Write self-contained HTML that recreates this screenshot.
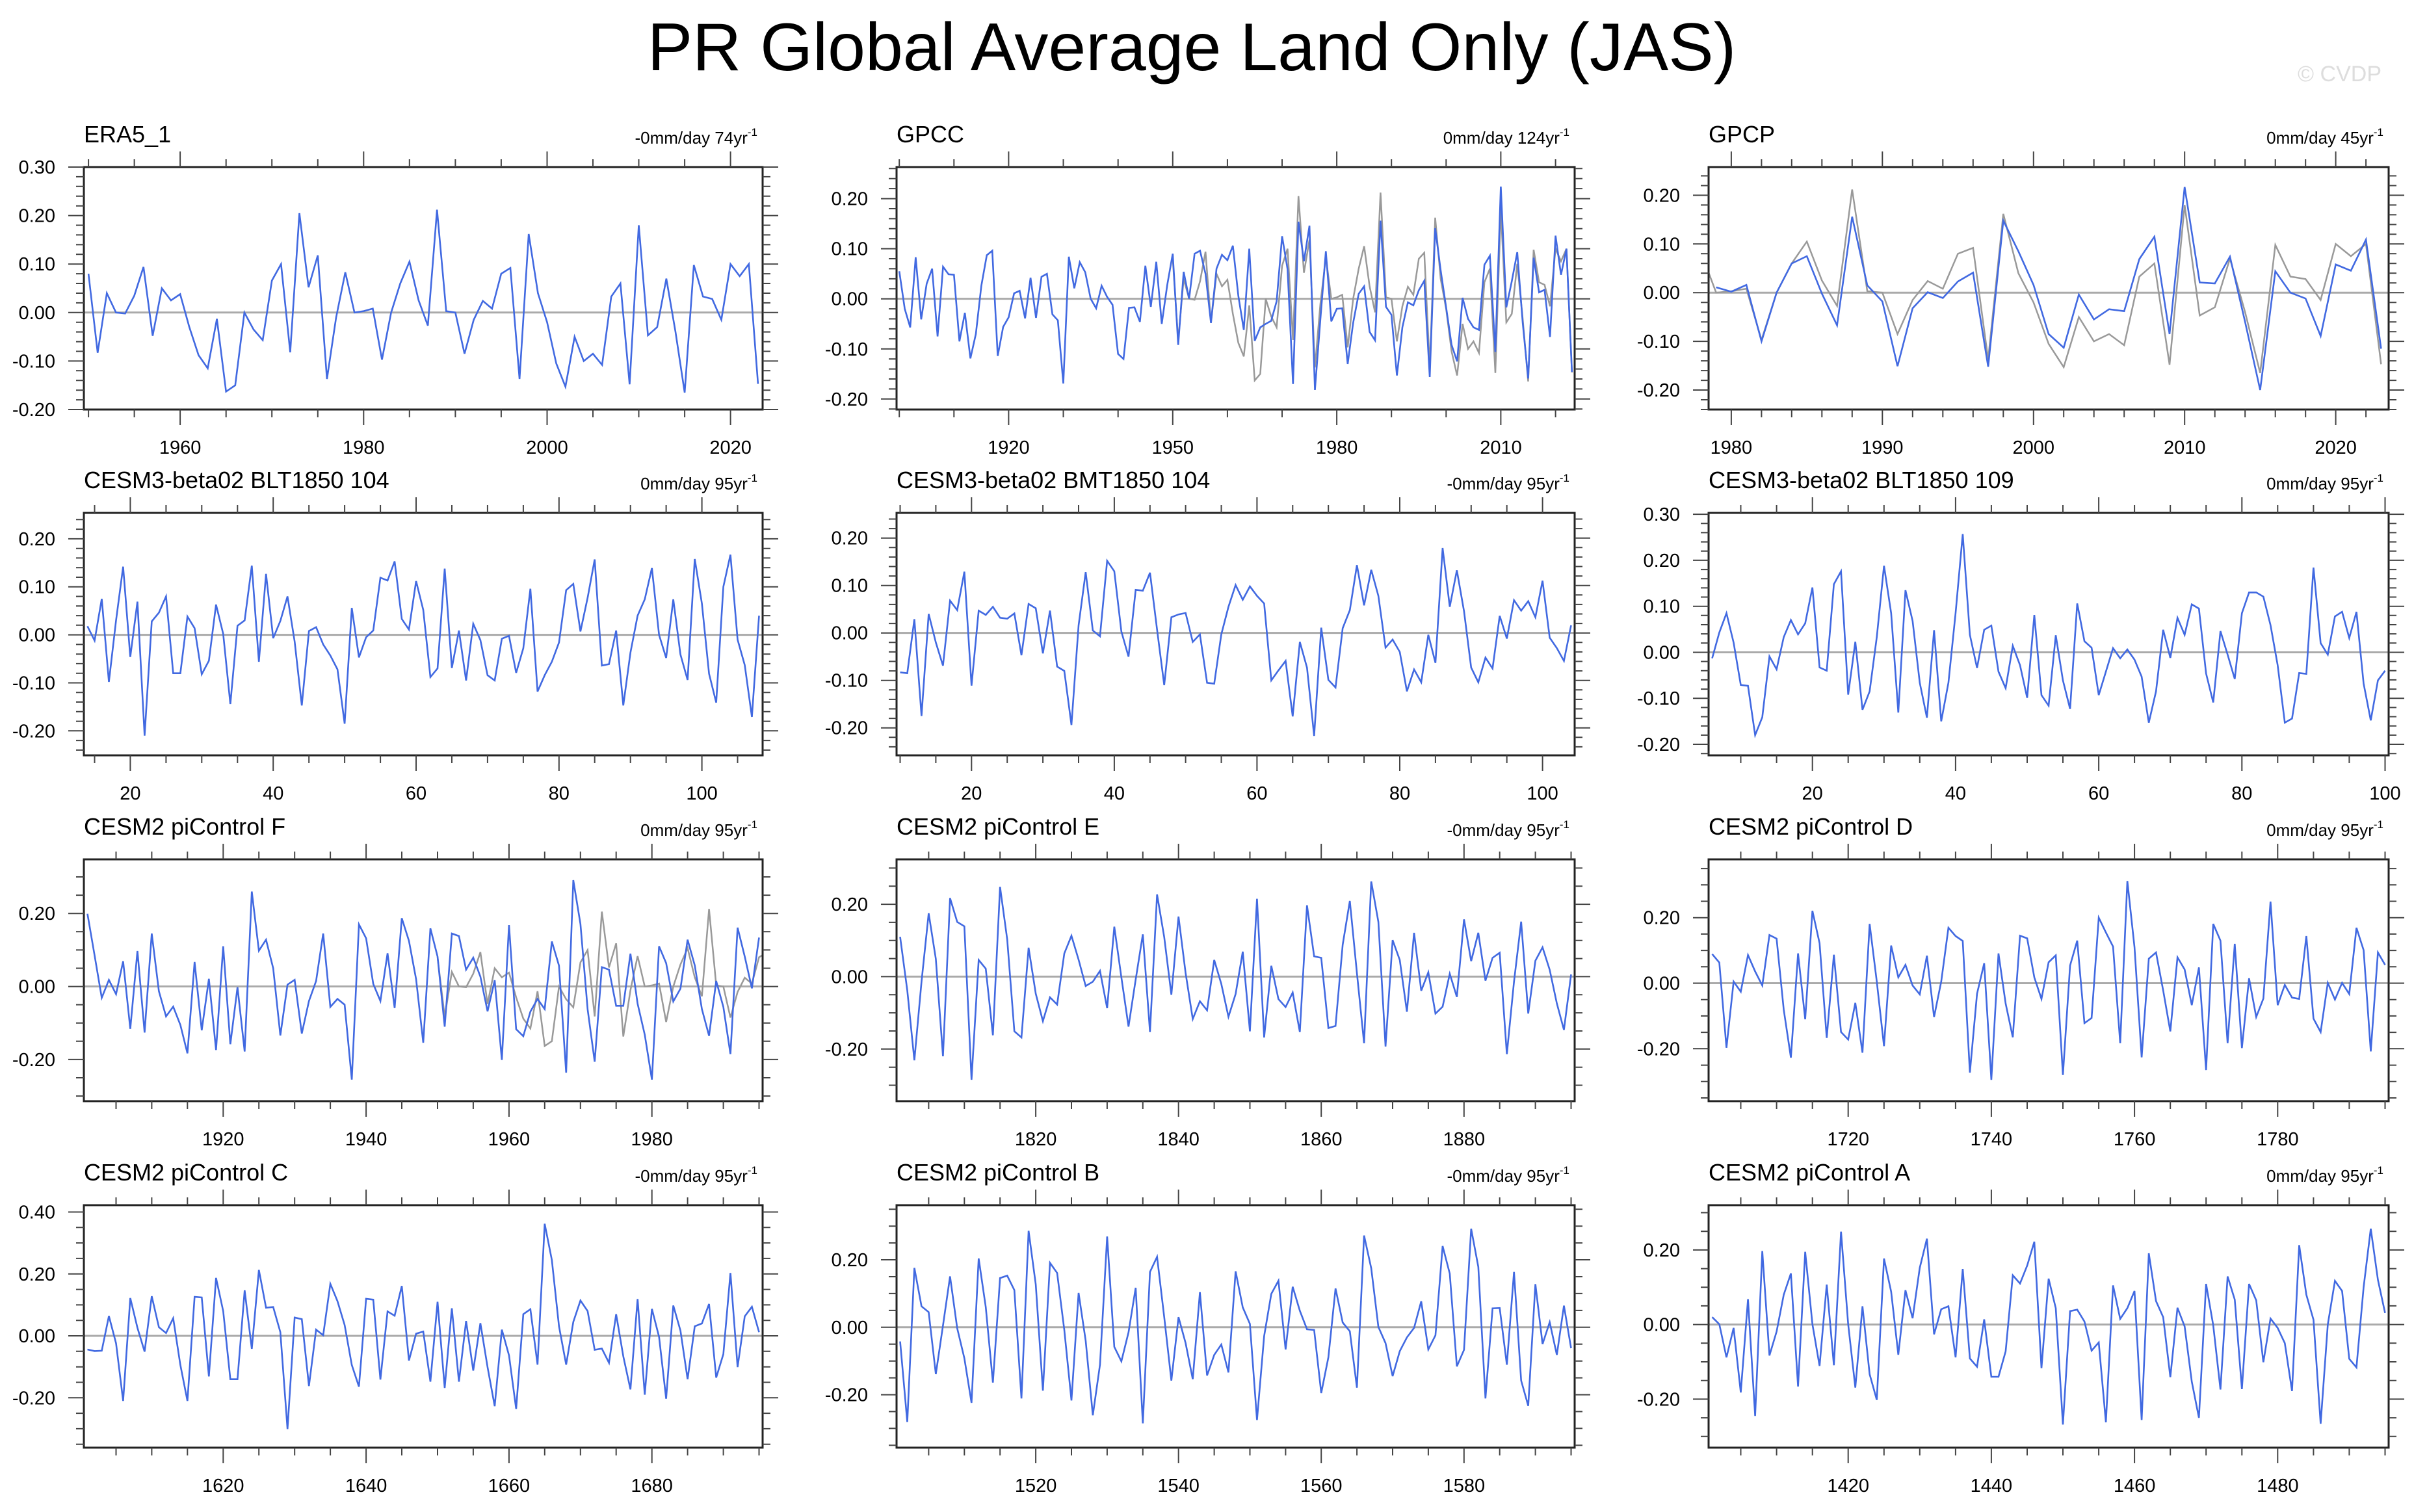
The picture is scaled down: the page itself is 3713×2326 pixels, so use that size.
<!DOCTYPE html>
<html><head><meta charset="utf-8">
<style>
html,body{margin:0;padding:0;background:#fff;}
svg{display:block;font-family:"Liberation Sans",sans-serif;}
</style></head>
<body>
<svg id="fig" xmlns="http://www.w3.org/2000/svg" width="3713" height="2326" viewBox="0 0 3713 2326">
<rect x="0" y="0" width="3713" height="2326" fill="#fff"/>
<text x="1833" y="108" text-anchor="middle" font-size="104" fill="#000">PR Global Average Land Only (JAS)</text>
<text x="3663" y="125" text-anchor="end" font-size="34" fill="#ddd">© CVDP</text>
</svg>
<script>
// ---- data arrays ----
const era5Start = 1950;
const era5Values = [.08,-.083,.04,0,-.002,.035,.094,-.048,.05,.025,.038,-.03,-.088,-.115,-.013,-.163,-.15,0,-.035,-.057,.066,.1,-.082,.205,.052,.118,-.137,-.01,.083,0,.003,.008,-.097,0,.06,.105,.025,-.027,.212,.003,0,-.085,-.015,.024,.008,.08,.092,-.137,.162,.04,-.02,-.105,-.153,-.05,-.1,-.085,-.108,.033,.06,-.148,.18,-.047,-.03,.07,-.04,-.165,.098,.033,.028,-.015,.1,.075,.1,-.147];
const gpccStart = 1900;
const gpccValues = [.055,-.02,-.057,.083,-.041,.03,.06,-.075,.064,.049,.048,-.085,-.028,-.119,-.07,.026,.087,.096,-.114,-.056,-.037,.011,.016,-.039,.042,-.038,.044,.05,-.031,-.043,-.169,.084,.021,.073,.053,0,-.019,.026,.004,-.012,-.11,-.12,-.018,-.017,-.046,.066,-.016,.074,-.05,.028,.09,-.092,.054,0,.09,.096,.05,-.048,.06,.088,.077,.106,.006,-.062,.1,-.084,-.057,-.05,-.044,-.005,.125,.059,-.17,.154,.075,.146,-.182,-.041,.095,-.045,-.02,-.019,-.13,-.048,.01,.025,-.066,-.083,.156,-.016,-.032,-.153,-.057,-.007,-.013,.017,.036,-.156,.141,.057,-.017,-.092,-.125,.002,-.04,-.057,-.062,.068,.086,-.106,.224,-.017,.035,.093,-.048,-.159,.082,.013,.018,-.076,.126,.048,.1,-.146];
const gpcpStart = 1979;
const gpcpValues = [.011,.002,.016,-.1,0,.06,.075,-.002,-.067,.156,.015,-.018,-.151,-.032,.001,-.011,.023,.041,-.152,.148,.085,.016,-.085,-.113,-.004,-.055,-.034,-.038,.069,.115,-.085,.217,.021,.019,.074,-.06,-.2,.044,0,-.012,-.089,.058,.045,.109,-.115];
const blt104Start = 14;
const blt104Values = [.018,-.012,.075,-.098,.03,.142,-.046,.069,-.21,.028,.046,.08,-.08,-.08,.038,.014,-.082,-.054,.063,.002,-.144,.019,.03,.144,-.056,.127,-.007,.029,.08,-.014,-.147,.008,.016,-.02,-.043,-.072,-.185,.056,-.047,-.005,.009,.119,.113,.153,.033,.011,.112,.052,-.088,-.07,.138,-.069,.009,-.095,.023,-.011,-.084,-.095,-.008,-.002,-.079,-.028,.096,-.118,-.084,-.056,-.016,.093,.106,.007,.077,.157,-.064,-.061,.009,-.147,-.037,.04,.074,.139,0,-.048,.074,-.041,-.094,.158,.065,-.081,-.141,.1,.167,-.01,-.063,-.171,.04];
const bmt104Start = 10;
const bmt104Values = [-.083,-.085,.029,-.175,.04,-.02,-.069,.068,.048,.129,-.111,.047,.038,.055,.032,.03,.041,-.047,.061,.052,-.043,.047,-.071,-.08,-.194,.016,.128,.005,-.007,.152,.13,.003,-.05,.091,.089,.127,.007,-.11,.033,.039,.042,-.019,-.003,-.105,-.107,-.003,.055,.101,.07,.098,.078,.062,-.1,-.079,-.059,-.176,-.019,-.073,-.217,.011,-.099,-.115,.01,.048,.143,.058,.133,.078,-.031,-.014,-.04,-.123,-.077,-.104,-.004,-.063,.179,.055,.132,.046,-.073,-.104,-.052,-.075,.036,-.012,.069,.047,.067,.033,.11,-.01,-.032,-.059,.016];
const blt109Start = 6;
const blt109Values = [-.013,.043,.085,.021,-.071,-.073,-.18,-.141,-.009,-.037,.033,.07,.039,.063,.141,-.033,-.04,.148,.176,-.092,.023,-.125,-.085,.033,.188,.085,-.131,.135,.068,-.066,-.142,.048,-.15,-.066,.085,.257,.038,-.034,.049,.058,-.042,-.078,.014,-.028,-.099,.081,-.093,-.116,.037,-.061,-.123,.106,.024,.01,-.093,-.042,.009,-.013,.006,-.016,-.053,-.153,-.085,.049,-.012,.075,.038,.104,.095,-.046,-.109,.046,-.005,-.058,.085,.13,.13,.121,.059,-.028,-.153,-.144,-.045,-.047,.184,.02,-.005,.078,.088,.031,.088,-.068,-.148,-.061,-.04];
const picFStart = 1901;
const picFValues = [.199,.085,-.031,.018,-.021,.069,-.116,.097,-.126,.145,-.013,-.082,-.055,-.105,-.183,.067,-.12,.021,-.174,.11,-.158,-.002,-.178,.26,.098,.128,.05,-.134,.005,.018,-.129,-.04,.015,.145,-.056,-.034,-.05,-.255,.17,.132,.007,-.04,.091,-.059,.187,.125,.02,-.154,.159,.082,-.11,.145,.138,.046,.079,.027,-.068,.017,-.201,.168,-.117,-.136,-.069,-.034,-.062,.123,.057,-.236,.291,.171,-.062,-.206,.053,.046,-.053,-.053,.09,-.047,-.132,-.255,.11,.064,-.041,-.006,.128,.058,-.062,-.135,.015,-.056,-.185,.161,.082,-.005,.134];
const picEStart = 1801;
const picEValues = [.11,-.038,-.231,-.014,.175,.049,-.22,.217,.151,.139,-.285,.046,.022,-.162,.248,.103,-.151,-.168,.08,-.047,-.123,-.057,-.077,.064,.113,.047,-.026,-.014,.016,-.087,.138,-.002,-.138,-.008,.117,-.153,.227,.109,-.05,.166,.01,-.117,-.068,-.093,.046,-.02,-.111,-.048,.069,-.151,.215,-.168,.03,-.062,-.084,-.044,-.153,.197,.056,.052,-.142,-.136,.088,.209,.01,-.184,.263,.151,-.193,.101,.046,-.097,.121,-.039,.012,-.102,-.083,.008,-.056,.158,.043,.121,-.011,.052,.066,-.214,-.014,.152,-.102,.044,.081,.019,-.074,-.147,.006];
const picDStart = 1701;
const picDValues = [.089,.063,-.197,.005,-.026,.086,.036,-.007,.147,.136,-.081,-.227,.091,-.11,.221,.122,-.167,.087,-.149,-.172,-.06,-.212,.181,.005,-.192,.115,.018,.056,-.007,-.034,.084,-.103,.005,.169,.144,.129,-.273,-.032,.061,-.295,.091,-.062,-.165,.145,.137,.018,-.048,.064,.085,-.28,.054,.13,-.122,-.106,.2,.155,.112,-.183,.312,.11,-.226,.075,.094,-.022,-.147,.079,.042,-.067,.048,-.265,.181,.13,-.183,.12,-.198,.015,-.103,-.047,.249,-.067,-.005,-.044,-.048,.144,-.108,-.149,.001,-.05,.001,-.033,.169,.101,-.208,.094,.056];
const picCStart = 1601;
const picCValues = [-.044,-.049,-.048,.064,-.024,-.21,.122,.026,-.051,.128,.028,.009,.057,-.094,-.21,.126,.124,-.131,.187,.08,-.14,-.14,.147,-.042,.213,.091,.093,.012,-.301,.059,.054,-.162,.02,.002,.168,.112,.035,-.094,-.164,.12,.117,-.141,.079,.065,.161,-.08,.007,.014,-.148,.11,-.168,.089,-.148,.048,-.112,.041,-.101,-.227,.02,-.063,-.236,.07,.086,-.093,.362,.245,.031,-.093,.045,.114,.08,-.045,-.041,-.087,.07,-.066,-.173,.119,-.19,.087,-.003,-.203,.098,.017,-.14,.031,.04,.103,-.135,-.059,.203,-.101,.063,.094,.012];
const picBStart = 1501;
const picBValues = [-.042,-.281,.176,.062,.045,-.139,.005,.151,-.003,-.092,-.224,.204,.06,-.164,.146,.153,.11,-.211,.286,.127,-.188,.191,.161,-.008,-.217,.102,-.04,-.261,-.111,.269,-.058,-.101,-.015,.117,-.285,.164,.209,.03,-.158,.03,-.047,-.154,.104,-.143,-.082,-.051,-.134,.166,.059,.01,-.275,-.026,.099,.138,-.066,.12,.049,-.006,-.008,-.195,-.089,.115,.014,-.012,-.179,.272,.175,.001,-.047,-.145,-.071,-.03,-.002,.077,-.066,-.024,.241,.159,-.116,-.067,.292,.179,-.211,.056,.057,-.111,.164,-.158,-.233,.128,-.05,.015,-.082,.064,-.062];
const picAStart = 1401;
const picAValues = [.02,.001,-.088,-.009,-.182,.068,-.245,.197,-.083,-.019,.08,.137,-.166,.195,.001,-.111,.107,-.109,.249,.001,-.169,.049,-.133,-.202,.177,.088,-.081,.092,.017,.152,.23,-.026,.041,.049,-.088,.149,-.091,-.113,.014,-.14,-.14,-.072,.132,.11,.158,.222,-.117,.123,.044,-.268,.036,.04,.008,-.07,-.048,-.262,.105,.015,.044,.09,-.256,.191,.063,.02,-.141,.045,-.005,-.153,-.25,.109,-.002,-.174,.129,.067,-.173,.109,.065,-.101,.016,-.009,-.05,-.178,.213,.08,.013,-.266,0,.117,.09,-.092,-.115,.1,.257,.12,.031];

const xMajorTicks = {era5:[1960,1980,2000,2020], gpcc:[1920,1950,1980,2010], gpcp:[1980,1990,2000,2010,2020], mod:[20,40,60,80,100], pF:[1920,1940,1960,1980], pE:[1820,1840,1860,1880], pD:[1720,1740,1760,1780], pC:[1620,1640,1660,1680], pB:[1520,1540,1560,1580], pA:[1420,1440,1460,1480]};

// ---- layout ----
const NS = "http://www.w3.org/2000/svg";
const svg = document.getElementById('fig');
const colL = [129, 1379, 2628], colR = [1173, 2422, 3674];
const rowT = [257, 789, 1322, 1854], rowB = [630, 1162, 1694, 2227];
const BLUE = "#4169e1", GRAY = "#999";

const panels = [
 {name:'era5', title:'ERA5_1', sub:'-0mm/day 74yr', start:era5Start, vals:era5Values, gray:false, ymin:-0.2, ymax:0.3, ymaj:0.1, ymin_step:0.02, xt:xMajorTicks.era5, xminor:5, r:0,c:0},
 {name:'gpcc', title:'GPCC', sub:'0mm/day 124yr', start:gpccStart, vals:gpccValues, gray:true, ymin:-0.221, ymax:0.263, ymaj:0.1, ymin_step:0.02, xt:xMajorTicks.gpcc, xminor:10, r:0,c:1},
 {name:'gpcp', title:'GPCP', sub:'0mm/day 45yr', start:gpcpStart, vals:gpcpValues, gray:true, ymin:-0.24, ymax:0.258, ymaj:0.1, ymin_step:0.02, xt:xMajorTicks.gpcp, xminor:2, r:0,c:2},
 {name:'blt104', title:'CESM3-beta02 BLT1850 104', sub:'0mm/day 95yr', start:blt104Start, vals:blt104Values, gray:false, ymin:-0.251, ymax:0.254, ymaj:0.1, ymin_step:0.02, xt:xMajorTicks.mod, xminor:5, r:1,c:0},
 {name:'bmt104', title:'CESM3-beta02 BMT1850 104', sub:'-0mm/day 95yr', start:bmt104Start, vals:bmt104Values, gray:false, ymin:-0.258, ymax:0.253, ymaj:0.1, ymin_step:0.02, xt:xMajorTicks.mod, xminor:5, r:1,c:1},
 {name:'blt109', title:'CESM3-beta02 BLT1850 109', sub:'0mm/day 95yr', start:blt109Start, vals:blt109Values, gray:false, ymin:-0.224, ymax:0.303, ymaj:0.1, ymin_step:0.02, xt:xMajorTicks.mod, xminor:5, r:1,c:2},
 {name:'picontrol-f', title:'CESM2 piControl F', sub:'0mm/day 95yr', start:picFStart, vals:picFValues, gray:true, ymin:-0.314, ymax:0.348, ymaj:0.2, ymin_step:0.05, xt:xMajorTicks.pF, xminor:5, r:2,c:0},
 {name:'picontrol-e', title:'CESM2 piControl E', sub:'-0mm/day 95yr', start:picEStart, vals:picEValues, gray:false, ymin:-0.344, ymax:0.324, ymaj:0.2, ymin_step:0.05, xt:xMajorTicks.pE, xminor:5, r:2,c:1},
 {name:'picontrol-d', title:'CESM2 piControl D', sub:'0mm/day 95yr', start:picDStart, vals:picDValues, gray:false, ymin:-0.36, ymax:0.378, ymaj:0.2, ymin_step:0.05, xt:xMajorTicks.pD, xminor:5, r:2,c:2},
 {name:'picontrol-c', title:'CESM2 piControl C', sub:'-0mm/day 95yr', start:picCStart, vals:picCValues, gray:false, ymin:-0.361, ymax:0.422, ymaj:0.2, ymin_step:0.05, xt:xMajorTicks.pC, xminor:5, r:3,c:0},
 {name:'picontrol-b', title:'CESM2 piControl B', sub:'-0mm/day 95yr', start:picBStart, vals:picBValues, gray:false, ymin:-0.357, ymax:0.362, ymaj:0.2, ymin_step:0.05, xt:xMajorTicks.pB, xminor:5, r:3,c:1},
 {name:'picontrol-a', title:'CESM2 piControl A', sub:'0mm/day 95yr', start:picAStart, vals:picAValues, gray:false, ymin:-0.33, ymax:0.32, ymaj:0.2, ymin_step:0.05, xt:xMajorTicks.pA, xminor:5, r:3,c:2}
];

function mk(tag, attrs, parent){
  const e = document.createElementNS(NS, tag);
  for (const k in attrs) e.setAttribute(k, attrs[k]);
  (parent||svg).appendChild(e);
  return e;
}

panels.forEach((p, pi) => {
  const L = colL[p.c], R = colR[p.c], T = rowT[p.r], B = rowB[p.r];
  const n = p.vals.length;
  const x0 = p.start - 0.5, x1 = p.start + n - 1 + 0.5;
  const xs = v => L + (v - x0) / (x1 - x0) * (R - L);
  const ys = v => B - (v - p.ymin) / (p.ymax - p.ymin) * (B - T);

  const g = mk('g', {});
  
  

  const clipId = 'clip' + pi;
  const cp = mk('clipPath', {id: clipId}, g);
  mk('rect', {x:L, y:T, width:R-L, height:B-T}, cp);

  // zero line
  const z = mk('line', {x1:L, x2:R, y1:ys(0), y2:ys(0), stroke:'#aaa', 'stroke-width':3}, g);
  
  

  // gray ERA5 overlay
  if (p.gray) {
    const pts = era5Values.map((v,i)=> xs(era5Start+i).toFixed(1)+','+ys(v).toFixed(1)).join(' ');
    const gl = mk('polyline', {points:pts, fill:'none', stroke:GRAY, 'stroke-width':2.5, 'clip-path':'url(#'+clipId+')'}, g);
    
    
  }
  // blue series
  const pts = p.vals.map((v,i)=> xs(p.start+i).toFixed(1)+','+ys(v).toFixed(1)).join(' ');
  const bl = mk('polyline', {points:pts, fill:'none', stroke:BLUE, 'stroke-width':2.6, 'stroke-linejoin':'miter', 'clip-path':'url(#'+clipId+')'}, g);
  
  

  // frame
  const fr = mk('rect', {x:L, y:T, width:R-L, height:B-T, fill:'none', stroke:'#222', 'stroke-width':3}, g);
  
  

  // y ticks
  let d = '';
  const eps = 1e-9;
  for (let v = Math.ceil(p.ymin/p.ymin_step - eps)*p.ymin_step; v <= p.ymax + eps; v += p.ymin_step) {
    const y = ys(v).toFixed(1);
    const isMaj = Math.abs(v/p.ymaj - Math.round(v/p.ymaj)) < 1e-6;
    const len = isMaj ? 24 : 12;
    d += `M${L} ${y}H${L-len}M${R} ${y}H${R+len}`;
    if (isMaj) {
      const val = Math.round(v/p.ymaj)*p.ymaj;
      const t = mk('text', {x:L-44, y:(+y+10), 'text-anchor':'end', 'font-size':29, fill:'#000'}, g);
      
      
      t.textContent = (Math.abs(val) < 1e-9 ? 0 : val).toFixed(2);
    }
  }
  // x ticks
  const first = Math.ceil(x0 / p.xminor) * p.xminor;
  for (let v = first; v <= x1; v += p.xminor) {
    const x = xs(v).toFixed(1);
    const isMaj = p.xt.indexOf(v) >= 0;
    const len = isMaj ? 24 : 12;
    d += `M${x} ${T}V${T-len}M${x} ${B}V${B+len}`;
  }
  p.xt.forEach(v => {
    const t = mk('text', {x:xs(v), y:B+68, 'text-anchor':'middle', 'font-size':29, fill:'#000'}, g);
    
    
    t.textContent = v;
  });
  const tk = mk('path', {d:d, stroke:'#444', 'stroke-width':2, fill:'none'}, g);
  
  

  // titles
  const tt = mk('text', {x:L, y:T-38, 'font-size':36, fill:'#000'}, g);
  
  
  tt.textContent = p.title;
  const st = mk('text', {x:R-8, y:T-36, 'text-anchor':'end', 'font-size':26, fill:'#000'}, g);
  
  
  st.textContent = p.sub;
  const sup = mk('tspan', {'font-size':17, dy:-12}, st);
  sup.textContent = '-1';
});
</script>
</body></html>
